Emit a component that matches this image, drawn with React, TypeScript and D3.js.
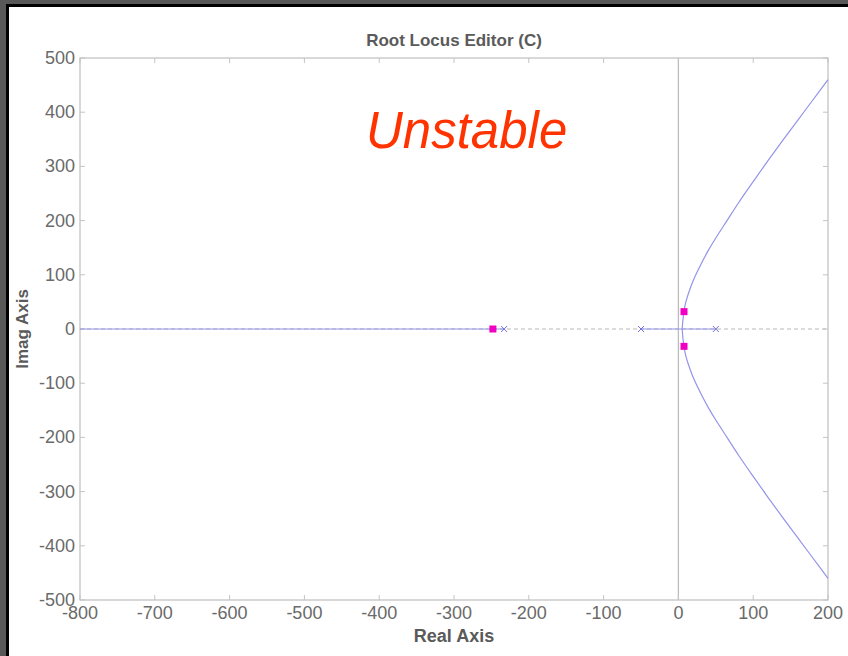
import React from "react";
import * as d3 from "d3";

const xTicks = [-800, -700, -600, -500, -400, -300, -200, -100, 0, 100, 200];
const yTicks = [500, 400, 300, 200, 100, 0, -100, -200, -300, -400, -500];

// open-loop poles (x markers)
const poles = [-233, -50, 50];
// closed-loop poles (magenta squares) [re, im]
const closedPoles: [number, number][] = [[-248, 0], [7.5, 32], [7.5, -32]];

// locus branches [re, im]
const realBranchLeft: [number, number][] = [[-800, 0], [-233, 0]];
const realBranchMid: [number, number][] = [[-50, 0], [50, 0]];
const upperBranch: [number, number][] = [
  [5, 0], [6, 16], [7.5, 33], [10, 50], [15, 72], [20, 90], [30, 119], [40, 145],
  [50, 168], [65, 200], [80, 232], [100, 272], [120, 311], [140, 349], [160, 386],
  [180, 423], [200, 460],
];
const lowerBranch: [number, number][] = upperBranch.map(([a, b]) => [a, -b]);

export default function App() {
  const W = 848, H = 656;
  const x = d3.scaleLinear().domain([-800, 200]).range([80, 828]);
  const y = d3.scaleLinear().domain([-500, 500]).range([600, 58]);
  const line = d3.line<[number, number]>().x(d => x(d[0])).y(d => y(d[1])).curve(d3.curveCatmullRom);
  const axisColor = "#c4c4c4";
  const labelColor = "#6a6a6a";
  const font = "Arial, 'Liberation Sans', sans-serif";
  const locusColor = "#9494ea";
  const x0 = 80, x1 = 828, y0 = 58, y1 = 600;
  const tl = 5;
  return (
    <svg width={W} height={H} style={{ position: "absolute", left: 0, top: 0 }}>
      <rect x={0} y={0} width={W} height={H} fill="#585858" />
      <rect x={6} y={4} width={W} height={H} fill="#000" />
      <rect x={9} y={7} width={W} height={H} fill="#fff" />

      <text x={454} y={46} textAnchor="middle" fontFamily={font} fontWeight="bold" fontSize={17} fill="#5a5a5a">
        Root Locus Editor (C)
      </text>

      {/* zero lines */}
      <line x1={x0} x2={x1} y1={y(0)} y2={y(0)} stroke="#b8b8b8" strokeWidth={1} strokeDasharray="4,3" />
      <line x1={x(0)} x2={x(0)} y1={y0} y2={y1} stroke="#bdbdbd" strokeWidth={1.3} />

      {/* frame */}
      <rect x={x0} y={y0} width={x1 - x0} height={y1 - y0} fill="none" stroke={axisColor} strokeWidth={1.3} />
      {xTicks.map(t => (
        <g key={"x" + t}>
          <line x1={x(t)} x2={x(t)} y1={y1} y2={y1 - tl} stroke={axisColor} />
          <line x1={x(t)} x2={x(t)} y1={y0} y2={y0 + tl} stroke={axisColor} />
          <text x={x(t)} y={619} textAnchor="middle" fontFamily={font} fontSize={18} fill={labelColor}>{t}</text>
        </g>
      ))}
      {yTicks.map(t => (
        <g key={"y" + t}>
          <line x1={x0} x2={x0 + tl} y1={y(t)} y2={y(t)} stroke={axisColor} />
          <line x1={x1} x2={x1 - tl} y1={y(t)} y2={y(t)} stroke={axisColor} />
          <text x={75} y={y(t) + 6} textAnchor="end" fontFamily={font} fontSize={18} fill={labelColor}>{t}</text>
        </g>
      ))}

      <text x={454} y={642} textAnchor="middle" fontFamily={font} fontWeight="bold" fontSize={18} fill="#5a5a5a">Real Axis</text>
      <text transform={`translate(28,${y(0)}) rotate(-90)`} textAnchor="middle" fontFamily={font} fontWeight="bold" fontSize={17} fill="#5a5a5a">Imag Axis</text>

      {/* locus */}
      {[realBranchLeft, realBranchMid, upperBranch, lowerBranch].map((b, i) => (
        <path key={i} d={line(b) || ""} fill="none" stroke={locusColor} strokeWidth={1.2} />
      ))}
      {poles.map(p => (
        <g key={"p" + p} stroke="#7070e0" strokeWidth={1}>
          <line x1={x(p) - 3} x2={x(p) + 3} y1={y(0) - 3} y2={y(0) + 3} />
          <line x1={x(p) - 3} x2={x(p) + 3} y1={y(0) + 3} y2={y(0) - 3} />
        </g>
      ))}
      {closedPoles.map(([re, im], i) => (
        <rect key={"c" + i} x={x(re) - 3.5} y={y(im) - 3.5} width={7} height={7} fill="#f000c0" />
      ))}

      <text x={366} y={148} fontFamily={font} fontStyle="italic" fontSize={51} fill="#ff3300">Unstable</text>
    </svg>
  );
}
